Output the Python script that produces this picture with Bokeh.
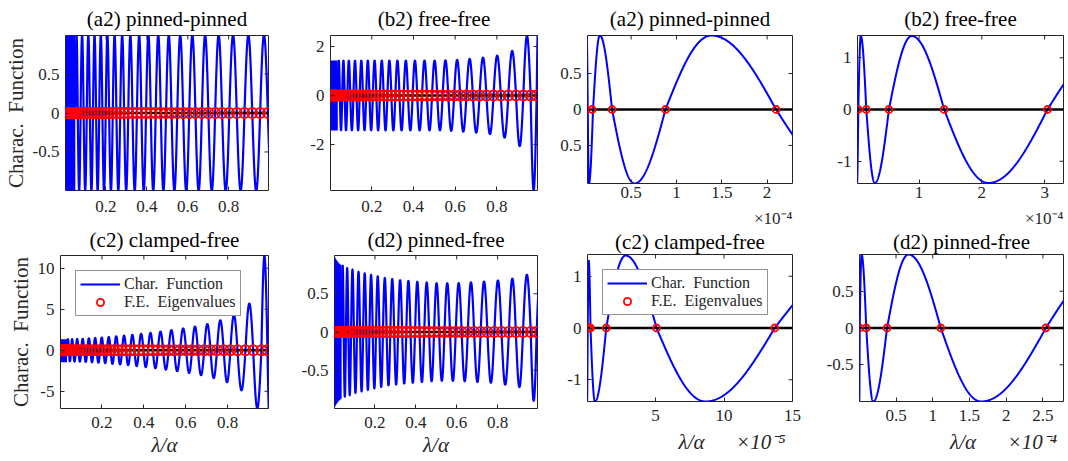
import numpy as np
from bokeh.plotting import figure
from bokeh.layouts import row, column
from bokeh.models import Range1d, FixedTicker, Title, Legend, LegendItem
from bokeh.embed import file_html
from bokeh.resources import INLINE

FONT = "Liberation Serif"
BLUE = "#0000ff"
RED = "#ff0000"
AX = "#262626"
NB = "\u00a0"

# ------------------------------------------------------------------ data
titles = ["(a2) pinned-pinned", "(b2) free-free", "(c2) clamped-free", "(d2) pinned-free"]
ylabel = "Charac." + NB + " Function"
xlabel = "\u03bb/\u03b1"
legend_labels = ["Char." + NB + " Function", "F.E." + NB + " Eigenvalues"]

# full range panels (lambda/alpha from 0 to 1)
lam_range = [0.002, 0.995]
xt_full = [0.2, 0.4, 0.6, 0.8]
xl_full = ["0.2", "0.4", "0.6", "0.8"]

# (a2) pinned-pinned: zero crossings and lobe amplitudes
zeros_a2 = [0.050, 0.062, 0.0757, 0.0907, 0.1060, 0.1212, 0.1364, 0.1517, 0.1669, 0.1825,
            0.1986, 0.2154, 0.2331, 0.2511, 0.2696, 0.2888, 0.3089, 0.3297, 0.3513, 0.3734,
            0.3959, 0.4191, 0.4432, 0.4681, 0.4937, 0.5206, 0.5487, 0.5776, 0.6072, 0.6377,
            0.6690, 0.7011, 0.7340, 0.7681, 0.8033, 0.8398, 0.8775, 0.9156, 0.9541, 0.9918, 1.030]
amp_a2 = [1.0, 1.0, 1.0, 1.0, 1.0, 1.0, 1.0, 1.0, 1.0, 1.0,
          1.0, 1.0, 1.0, 1.0, 1.0, 1.0, 1.0, 1.0, 1.0, 1.0,
          1.0, 1.0, 1.0, 1.0, 1.0, 1.0, 1.0, 1.0, 1.0, 1.0,
          1.0, 1.0, 1.0, 1.0, 1.0, 1.0, 1.0, 1.0, 1.0, 1.0]
sign_a2 = 1
band_x_a2 = [0.002, 0.050]
band_top_a2 = [1.0, 1.0]
band_bot_a2 = [-1.0, -1.0]
eig_dense_a2 = [0.004, 0.008, 0.012, 0.016, 0.020, 0.025, 0.030, 0.035, 0.040, 0.045]
yr_a2 = [-0.995, 0.995]
yt_a2 = [-0.5, 0, 0.5]
yl_a2 = ["-0.5", "0", "0.5"]

# (b2) free-free
zeros_b2 = [0.037, 0.047, 0.058, 0.070, 0.083, 0.097, 0.112, 0.127, 0.142, 0.1575,
            0.173, 0.189, 0.205, 0.222, 0.239, 0.257, 0.275, 0.294, 0.313, 0.333,
            0.353, 0.374, 0.396, 0.418, 0.441, 0.465, 0.489, 0.514, 0.540, 0.567,
            0.595, 0.624, 0.654, 0.685, 0.717, 0.750, 0.784, 0.819, 0.855, 0.892,
            0.927, 0.962, 0.991, 1.011]
amp_b2 = [1.43, 1.43, 1.43, 1.43, 1.43, 1.43, 1.43, 1.43, 1.43, 1.43,
          1.43, 1.43, 1.43, 1.43, 1.43, 1.43, 1.43, 1.43, 1.43, 1.43,
          1.43, 1.43, 1.43, 1.43, 1.43, 1.43, 1.43, 1.43, 1.44, 1.45,
          1.46, 1.48, 1.50, 1.52, 1.55, 1.58, 1.63, 1.72, 1.82, 2.07,
          2.44, 3.88, 4.0]
sign_b2 = 1
band_x_b2 = [0.002, 0.037]
band_top_b2 = [1.43, 1.43]
band_bot_b2 = [-1.43, -1.43]
eig_dense_b2 = [0.004, 0.008, 0.012, 0.016, 0.020, 0.024, 0.028, 0.032]
yr_b2 = [-3.88, 2.45]
yt_b2 = [-2, 0, 2]
yl_b2 = ["-2", "0", "2"]

# (c2) clamped-free
zeros_c2 = [0.033, 0.042, 0.052, 0.063, 0.075, 0.088, 0.101, 0.115, 0.130, 0.145,
            0.160, 0.175, 0.191, 0.207, 0.224, 0.241, 0.259, 0.277, 0.296, 0.315,
            0.335, 0.355, 0.376, 0.398, 0.420, 0.443, 0.467, 0.492, 0.518, 0.545,
            0.573, 0.602, 0.630, 0.658, 0.688, 0.718, 0.749, 0.781, 0.813, 0.847,
            0.885, 0.922, 0.961, 0.990, 1.015]
amp_c2 = [1.35, 1.35, 1.35, 1.38, 1.38, 1.40, 1.40, 1.42, 1.45, 1.47,
          1.50, 1.52, 1.55, 1.58, 1.62, 1.66, 1.70, 1.74, 1.78, 1.83,
          1.88, 1.94, 2.00, 2.06, 2.12, 2.20, 2.28, 2.37, 2.46, 2.56,
          2.66, 2.78, 2.90, 3.05, 3.20, 3.40, 3.65, 3.90, 4.30, 4.90,
          5.70, 7.10, 11.5, 10.4]
sign_c2 = 1
band_x_c2 = [0.002, 0.033]
band_top_c2 = [1.35, 1.35]
band_bot_c2 = [-1.45, -1.45]
eig_dense_c2 = [0.004, 0.008, 0.012, 0.016, 0.020, 0.024, 0.028]
yr_c2 = [-7.1, 11.55]
yt_c2 = [-5, 0, 5, 10]
yl_c2 = ["-5", "0", "5", "10"]

# (d2) pinned-free
zeros_d2 = [0.037, 0.047, 0.058, 0.070, 0.083, 0.097, 0.112, 0.127, 0.142, 0.1575,
            0.173, 0.189, 0.205, 0.222, 0.239, 0.257, 0.275, 0.294, 0.313, 0.333,
            0.353, 0.374, 0.396, 0.418, 0.441, 0.465, 0.489, 0.514, 0.540, 0.567,
            0.595, 0.624, 0.654, 0.685, 0.717, 0.750, 0.784, 0.819, 0.855, 0.889,
            0.924, 0.962, 0.991, 1.021]
amp_d2 = [0.87, 0.85, 0.84, 0.83, 0.82, 0.80, 0.79, 0.78, 0.77, 0.76,
          0.75, 0.74, 0.73, 0.72, 0.71, 0.70, 0.695, 0.69, 0.68, 0.675,
          0.67, 0.665, 0.66, 0.655, 0.65, 0.645, 0.64, 0.64, 0.64, 0.64,
          0.64, 0.645, 0.65, 0.655, 0.66, 0.665, 0.675, 0.69, 0.70, 0.72,
          0.75, 0.90, 0.69]
sign_d2 = 1
band_x_d2 = [0.002, 0.012, 0.024, 0.037]
band_top_d2 = [0.99, 0.94, 0.90, 0.87]
band_bot_d2 = [-0.99, -0.94, -0.90, -0.87]
eig_dense_d2 = [0.004, 0.008, 0.012, 0.016, 0.020, 0.024, 0.028, 0.032]
yr_d2 = [-1.0, 1.0]
yt_d2 = [-0.5, 0, 0.5]
yl_d2 = ["-0.5", "0", "0.5"]

# zoomed panels: zero crossings / extrema (x in units of the axis multiplier)
knot_x_a2z = [0.010, 0.022, 0.035, 0.080, 0.155, 0.29, 0.537, 0.879, 1.386, 2.099, 2.92]
knot_y_a2z = [1.03, 0, -1.03, 0, 1.03, 0, -1.03, 0, 1.03, 0, -1.03]
eig_a2z = [0.008, 0.07, 0.29, 0.88, 2.10]
xr_a2z = [0.019, 2.28]
yr_a2z = [-1.03, 1.03]
xt_a2z = [0.5, 1, 1.5, 2]
xl_a2z = ["0.5", "1", "1.5", "2"]
yt_a2z = [-0.5, 0, 0.5]
yl_a2z = ["0.5", "0", "0.5"]
mult_a2z = "\u00d710\u207b\u2074"

knot_x_b2z = [0.012, 0.033, 0.072, 0.16, 0.295, 0.52, 0.884, 1.40, 2.105, 3.045, 4.2]
knot_y_b2z = [-1.42, 0, 1.42, 0, -1.42, 0, 1.42, 0, -1.42, 0, 1.42]
eig_b2z = [0.03, 0.16, 0.52, 1.40, 3.045]
xr_b2z = [0.02, 3.30]
yr_b2z = [-1.43, 1.43]
xt_b2z = [1, 2, 3]
xl_b2z = ["1", "2", "3"]
yt_b2z = [-1, 0, 1]
yl_b2z = ["-1", "0", "1"]
mult_b2z = "\u00d710\u207b\u2074"

knot_x_c2z = [0.0, 0.045, 0.12, 0.25, 0.57, 1.40, 2.81, 5.07, 8.65, 13.7, 20.2]
knot_y_c2z = [-1.42, 0, 1.3, 0, -1.42, 0, 1.40, 0, -1.42, 0, 1.42]
eig_c2z = [0.03, 0.08, 0.15, 0.25, 1.40, 5.07, 13.7]
xr_c2z = [0.03, 15.0]
yr_c2z = [-1.42, 1.42]
xt_c2z = [5, 10, 15]
xl_c2z = ["5", "10", "15"]
yt_c2z = [-1, 0, 1]
yl_c2z = ["-1", "0", "1"]
mult_c2z = "\u00d710\u207b\u2075"

knot_x_d2z = [0.0, 0.006, 0.031, 0.095, 0.19, 0.378, 0.67, 1.11, 1.66, 2.54, 3.54]
knot_y_d2z = [-1.0, 0, 1.0, 0, -1.0, 0, 1.0, 0, -1.0, 0, 1.0]
eig_d2z = [0.005, 0.095, 0.378, 1.11, 2.54]
xr_d2z = [0.003, 2.78]
yr_d2z = [-1.0, 1.0]
xt_d2z = [0.5, 1, 1.5, 2, 2.5]
xl_d2z = ["0.5", "1", "1.5", "2", "2.5"]
yt_d2z = [-0.5, 0, 0.5]
yl_d2z = ["-0.5", "0", "0.5"]
mult_d2z = "\u00d710\u207b\u2074"


# ------------------------------------------------------------------ helpers
def lobe_curve(zeros, amps, sign, n=40):
    xs, ys = [], []
    s = sign
    for i in range(len(zeros) - 1):
        t = np.linspace(0.0, 1.0, n)
        xs.append(zeros[i] + (zeros[i + 1] - zeros[i]) * t)
        ys.append(s * amps[i] * np.sin(np.pi * t))
        s = -s
    return np.concatenate(xs), np.concatenate(ys)


def knot_curve(kx, ky, n=120):
    xs, ys = [], []
    for i in range(len(kx) - 1):
        t = np.linspace(0.0, 1.0, n)
        xs.append(kx[i] + (kx[i + 1] - kx[i]) * t)
        if ky[i] == 0:
            ys.append(ky[i + 1] * np.sin(0.5 * np.pi * t))
        else:
            ys.append(ky[i] * np.cos(0.5 * np.pi * t))
    return np.concatenate(xs), np.concatenate(ys)


def style_axis(ax, standoff):
    ax.axis_line_color = None
    ax.major_tick_in = 4
    ax.major_tick_out = 0
    ax.major_tick_line_color = AX
    ax.major_tick_line_width = 1
    ax.minor_tick_line_color = None
    ax.major_label_text_font = FONT
    ax.major_label_text_font_size = "17px"
    ax.major_label_text_color = AX
    ax.major_label_standoff = standoff


def base_fig(geom, xr, yr, title, xt, xl, yt, yl, title_standoff, x_standoff, top_mult=None):
    w, h, bl, br, bt, bb = geom
    p = figure(width=w, height=h, min_border_left=bl, min_border_right=br,
               min_border_top=bt, min_border_bottom=bb,
               x_range=Range1d(xr[0], xr[1]), y_range=Range1d(yr[0], yr[1]),
               output_backend="svg", toolbar_location=None, title=None)
    if "frame_align" in p.properties():
        p.frame_align = False
    p.add_layout(Title(text=title, align="center", text_font=FONT, text_font_size="21px",
                       text_font_style="normal", text_color="black",
                       standoff=title_standoff), "above")
    if top_mult is not None:
        # axis multiplier of the panel above, written at its lower right corner
        p.add_layout(Title(text=top_mult, align="right", text_font=FONT, text_font_size="17px",
                           text_font_style="normal", text_color=AX, standoff=0), "above")
    p.grid.visible = False
    p.outline_line_color = AX
    p.outline_line_width = 1
    p.background_fill_color = "white"
    p.border_fill_color = "white"
    xax = p.below[0]
    yax = p.left[0]
    for ax, ticks, labels, so in ((xax, xt, xl, x_standoff), (yax, yt, yl, 6)):
        ax.ticker = FixedTicker(ticks=ticks)
        ax.major_label_overrides = dict(zip(ticks, labels))
        style_axis(ax, so)
    # mirrored inward ticks on top and right edges (clipped to the frame)
    p.scatter(xt, [yr[1]] * len(xt), marker="dash", angle=np.pi / 2, size=8,
              line_color=AX, line_width=1)
    p.scatter([xr[1]] * len(yt), yt, marker="dash", size=8, line_color=AX, line_width=1)
    return p, xax, yax


def add_legend(p, line_r, circ_r):
    leg = Legend(items=[LegendItem(label=legend_labels[0], renderers=[line_r]),
                        LegendItem(label=legend_labels[1], renderers=[circ_r])],
                 location="top_left", margin=15, padding=4, spacing=0,
                 glyph_width=40, glyph_height=18, label_height=18, label_standoff=4,
                 label_text_font=FONT, label_text_font_size="16px", label_text_color=AX,
                 border_line_color=AX, border_line_width=1, background_fill_color="white",
                 background_fill_alpha=1.0)
    p.add_layout(leg)


def set_xlabel(ax, text, standoff):
    ax.axis_label = text
    ax.axis_label_text_font = FONT
    ax.axis_label_text_font_size = "21px"
    ax.axis_label_text_font_style = "italic"
    ax.axis_label_text_color = AX
    ax.axis_label_standoff = standoff


def full_panel(geom, title, zeros, amps, sign, bx, btop, bbot, eig_dense, yr, yt, yl,
               ylab=False, xlab=False, legend=False, title_standoff=9, x_standoff=8):
    p, xax, yax = base_fig(geom, lam_range, yr, title, xt_full, xl_full, yt, yl,
                           title_standoff, x_standoff)
    cx, cy = lobe_curve(zeros, amps, sign)
    line_r = p.line(cx, cy, line_color=BLUE, line_width=2.2)
    p.varea(x=bx, y1=bbot, y2=btop, fill_color=BLUE, fill_alpha=1.0)
    p.line(lam_range, [0, 0], line_color="black", line_width=2.7)
    eig = eig_dense + [z for z in zeros if z <= lam_range[1]]
    circ_r = p.scatter(eig, [0] * len(eig), marker="circle", size=10, fill_color=None,
                       line_color=RED, line_width=1.8)
    if ylab:
        yax.axis_label = ylabel
        yax.axis_label_text_font = FONT
        yax.axis_label_text_font_size = "21px"
        yax.axis_label_text_font_style = "normal"
        yax.axis_label_text_color = AX
        yax.axis_label_standoff = 2
    if xlab:
        set_xlabel(xax, xlabel, 2)
    if legend:
        add_legend(p, line_r, circ_r)
    return p


def zoom_panel(geom, title, kx, ky, eig, xr, yr, xt, xl, yt, yl, mult=None, top_mult=None,
               legend=False, title_standoff=9, x_standoff=6):
    p, xax, yax = base_fig(geom, xr, yr, title, xt, xl, yt, yl, title_standoff, x_standoff,
                           top_mult)
    cx, cy = knot_curve(kx, ky)
    line_r = p.line(cx, cy, line_color=BLUE, line_width=2.0)
    p.line(xr, [0, 0], line_color="black", line_width=2.7)
    circ_r = p.scatter(eig, [0] * len(eig), marker="circle", size=7, fill_color=None,
                       line_color=RED, line_width=1.8)
    if mult is not None:
        # axis multiplier written at the right end of the axis-label line
        set_xlabel(xax, NB * 16 + xlabel + NB * 6 + mult, 6)
    if legend:
        add_legend(p, line_r, circ_r)
    return p


# geometry: width, height, border left, right, top, bottom
g_a2 = (298, 222, 60, 30, 35, 32)
g_b2 = (254, 222, 32, 15, 35, 32)
g_a2z = (271, 205, 35, 31, 34, 22)
g_b2z = (245, 205, 34, 5, 34, 22)
g_c2 = (298, 239, 60, 30, 32, 53)
g_d2 = (254, 239, 32, 15, 32, 53)
g_c2z = (271, 256, 35, 31, 49, 60)
g_d2z = (245, 256, 34, 5, 49, 60)

p1 = full_panel(g_a2, titles[0], zeros_a2, amp_a2, sign_a2, band_x_a2, band_top_a2, band_bot_a2,
                eig_dense_a2, yr_a2, yt_a2, yl_a2, ylab=True, x_standoff=10)
p2 = full_panel(g_b2, titles[1], zeros_b2, amp_b2, sign_b2, band_x_b2, band_top_b2, band_bot_b2,
                eig_dense_b2, yr_b2, yt_b2, yl_b2, x_standoff=10)
p3 = zoom_panel(g_a2z, titles[0], knot_x_a2z, knot_y_a2z, eig_a2z, xr_a2z, yr_a2z,
                xt_a2z, xl_a2z, yt_a2z, yl_a2z, x_standoff=3)
p4 = zoom_panel(g_b2z, titles[1], knot_x_b2z, knot_y_b2z, eig_b2z, xr_b2z, yr_b2z,
                xt_b2z, xl_b2z, yt_b2z, yl_b2z, x_standoff=3)
p5 = full_panel(g_c2, titles[2], zeros_c2, amp_c2, sign_c2, band_x_c2, band_top_c2, band_bot_c2,
                eig_dense_c2, yr_c2, yt_c2, yl_c2, ylab=True, xlab=True, legend=True,
                title_standoff=7)
p6 = full_panel(g_d2, titles[3], zeros_d2, amp_d2, sign_d2, band_x_d2, band_top_d2, band_bot_d2,
                eig_dense_d2, yr_d2, yt_d2, yl_d2, xlab=True, title_standoff=7)
p7 = zoom_panel(g_c2z, titles[2], knot_x_c2z, knot_y_c2z, eig_c2z, xr_c2z, yr_c2z,
                xt_c2z, xl_c2z, yt_c2z, yl_c2z, mult=mult_c2z, top_mult=mult_a2z,
                legend=True, title_standoff=1, x_standoff=8)
p8 = zoom_panel(g_d2z, titles[3], knot_x_d2z, knot_y_d2z, eig_d2z, xr_d2z, yr_d2z,
                xt_d2z, xl_d2z, yt_d2z, yl_d2z, mult=mult_d2z, top_mult=mult_b2z,
                title_standoff=1, x_standoff=8)

layout = row(column(p1, p5, spacing=0), column(p2, p6, spacing=0),
             column(p3, p7, spacing=0), column(p4, p8, spacing=0), spacing=0)

open("out.html", "w").write(file_html(layout, INLINE))
